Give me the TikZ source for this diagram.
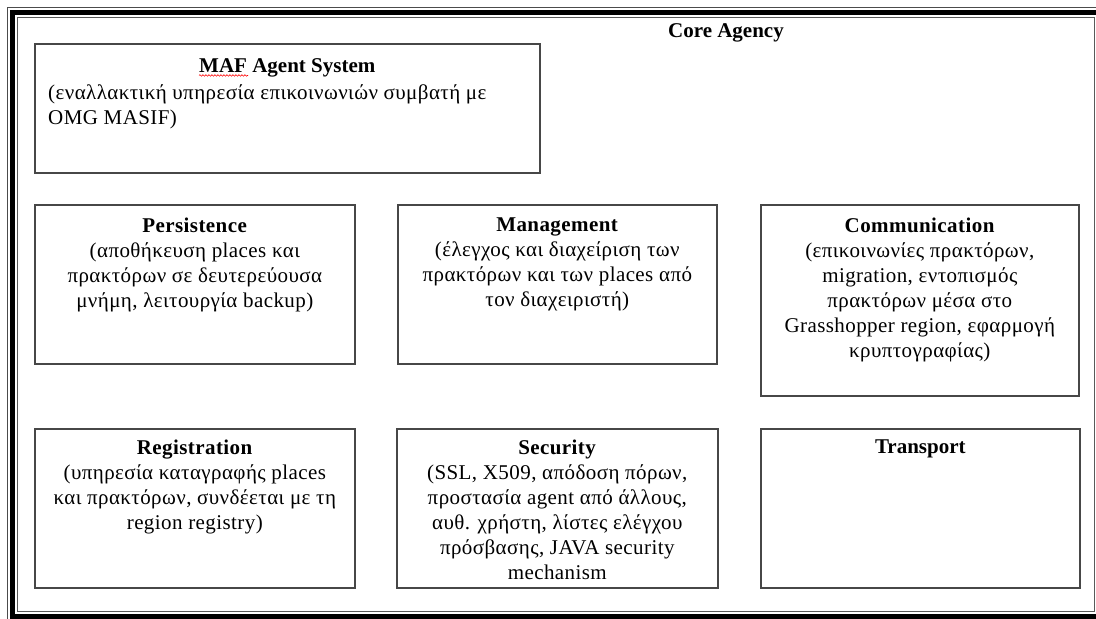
\documentclass[tikz,border=0pt]{standalone}
\usepackage{fontspec}
\setmainfont{Liberation Serif}
\usetikzlibrary{decorations.pathmorphing}
\begin{document}
\begin{tikzpicture}[x=1pt,y=-1pt,
  box/.style={draw=black!72, line width=1.6pt, anchor=north west, inner sep=0pt},
  txt/.style={anchor=north, inner sep=0pt, align=center,
    font=\fontsize{21}{25}\selectfont\addfontfeature{LetterSpace=2}},
  ttl/.style={font=\fontsize{21}{25}\selectfont\bfseries}]
\useasboundingbox (0,0) rectangle (1096,619);
\clip (0,0) rectangle (1096,619);
\fill[white] (0,0) rectangle (1096,619);
% triple frame: thin outer line, heavy band, thin inner line
\draw[black!70, line width=1.4pt] (7.5,7.5) rectangle (1105,622);
\draw[black, line width=5pt] (12.5,12) rectangle (1099.5,616.5);
\draw[black!65, line width=1.2pt] (17.5,17.5) rectangle (1094.5,611.5);

\node[ttl, inner sep=0pt] (core) at (726,33) {Core Agency};

% component boxes
\node[box, minimum width=505pt, minimum height=129pt] (maf) at (34,43) {};
\node[box, minimum width=320pt, minimum height=159pt] (pers) at (34,204) {};
\node[box, minimum width=319pt, minimum height=159pt] (mgmt) at (397,204) {};
\node[box, minimum width=318pt, minimum height=191pt] (comm) at (760,204) {};
\node[box, minimum width=320pt, minimum height=159pt] (reg) at (34,428) {};
\node[box, minimum width=321pt, minimum height=159pt] (sec) at (396,428) {};
\node[box, minimum width=319pt, minimum height=159pt] (trans) at (760,428) {};

% box contents
\node[ttl, anchor=north, inner sep=0pt] (maft) at ([yshift=-15pt]maf.north) {MAF Agent System};
\node[txt, anchor=north west, align=left] (mafb) at ([xshift=14pt,yshift=-41pt]maf.north west)
  {(εναλλακτική υπηρεσία επικοινωνιών συμβατή με\\OMG MASIF)};
\draw[red, line width=0.6pt, decorate, decoration={snake, amplitude=0.8pt, segment length=3pt}]
  ([yshift=-8pt]maft.west) -- ([xshift=49pt,yshift=-8pt]maft.west);

\node[txt] (perst) at ([yshift=-14pt]pers.north)
  {\textbf{Persistence}\\(αποθήκευση places και\\πρακτόρων σε δευτερεύουσα\\μνήμη, λειτουργία backup)};
\node[txt] (mgmtt) at ([yshift=-14pt]mgmt.north)
  {\textbf{Management}\\(έλεγχος και διαχείριση των\\πρακτόρων και των places από\\τον διαχειριστή)};
\node[txt] (commt) at ([yshift=-14pt]comm.north)
  {\textbf{Communication}\\(επικοινωνίες πρακτόρων,\\migration, εντοπισμός\\πρακτόρων μέσα στο\\Grasshopper region, εφαρμογή\\κρυπτογραφίας)};
\node[txt] (regt) at ([yshift=-12pt]reg.north)
  {\textbf{Registration}\\(υπηρεσία καταγραφής places\\και πρακτόρων, συνδέεται με τη\\region registry)};
\node[txt] (sect) at ([yshift=-12pt]sec.north)
  {\textbf{Security}\\(SSL, X509, απόδοση πόρων,\\προστασία agent από άλλους,\\αυθ. χρήστη, λίστες ελέγχου\\πρόσβασης, JAVA security\\mechanism};
\node[ttl, anchor=north, inner sep=0pt] (transt) at ([yshift=-12pt]trans.north) {Transport};
\end{tikzpicture}
\end{document}
